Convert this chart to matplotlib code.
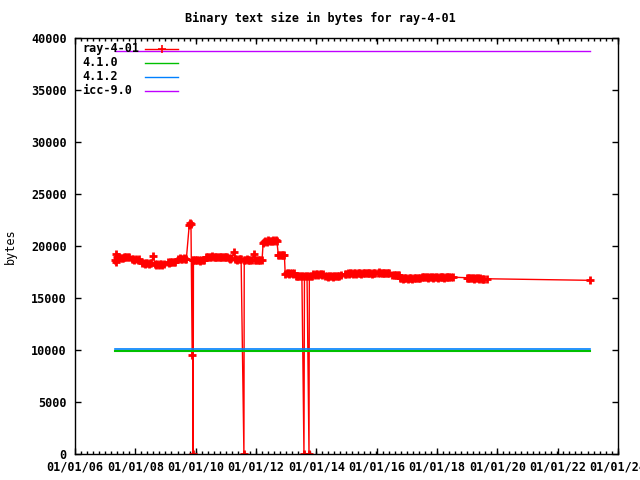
import numpy as np
import pandas as pd
import matplotlib
matplotlib.use("Agg")
import matplotlib.pyplot as plt
import matplotlib.dates as mdates
from matplotlib.ticker import AutoMinorLocator, MultipleLocator

# ray-4-01 build sizes
ray_dates = [
    '2007-05-01', '2007-05-08', '2007-05-15', '2007-05-25', '2007-06-05', '2007-06-20',
    '2007-07-05', '2007-07-20', '2007-08-01', '2007-08-15',
    '2007-08-30', '2007-09-15', '2007-10-01', '2007-10-15',
    '2007-11-20', '2007-12-05', '2007-12-20', '2008-01-10', '2008-02-01', '2008-02-20',
    '2008-03-25', '2008-04-10', '2008-04-25', '2008-05-10', '2008-05-25', '2008-06-10',
    '2008-06-25', '2008-07-10', '2008-08-05',
    '2008-08-25', '2008-09-10', '2008-09-25', '2008-10-10', '2008-10-25', '2008-11-10',
    '2008-11-25', '2008-12-10',
    '2009-01-25', '2009-02-10', '2009-02-25', '2009-03-10', '2009-03-25', '2009-04-10',
    '2009-04-25',
    '2009-06-01', '2009-06-20', '2009-07-10', '2009-07-25', '2009-08-10', '2009-08-25',
    '2009-09-10',
    '2009-10-15', '2009-10-25', '2009-11-05', '2009-11-20', '2009-11-28', '2009-12-01',
    '2009-12-05',
    '2009-12-20', '2010-01-05', '2010-01-20', '2010-02-05', '2010-02-20', '2010-03-10',
    '2010-03-25', '2010-04-10',
    '2010-05-05', '2010-05-20', '2010-06-05', '2010-06-20', '2010-07-05', '2010-07-20',
    '2010-08-05', '2010-08-20', '2010-09-05', '2010-09-20', '2010-10-05', '2010-10-20',
    '2010-11-05', '2010-11-20', '2010-12-05', '2010-12-20', '2011-01-05', '2011-01-20',
    '2011-02-05',
    '2011-02-20', '2011-03-10', '2011-04-08', '2011-04-20', '2011-05-05', '2011-05-20',
    '2011-06-05', '2011-06-20', '2011-07-05', '2011-08-08',
    '2011-08-12', '2011-08-25', '2011-09-10', '2011-09-25', '2011-10-10', '2011-10-25',
    '2011-11-10', '2011-12-05', '2011-12-20', '2012-01-05', '2012-01-20', '2012-02-05',
    '2012-02-20', '2012-03-15',
    '2012-03-28', '2012-04-10', '2012-04-25', '2012-05-10', '2012-05-25', '2012-06-10',
    '2012-06-25', '2012-07-10', '2012-07-25', '2012-08-10', '2012-08-25', '2012-09-10',
    '2012-09-28', '2012-10-10', '2012-10-25', '2012-11-10', '2012-11-25', '2012-12-10',
    '2012-12-20', '2013-01-05', '2013-01-20', '2013-02-05', '2013-02-20', '2013-03-10',
    '2013-03-25', '2013-04-10',
    '2013-04-25', '2013-05-10', '2013-05-25', '2013-06-10', '2013-06-25', '2013-07-10',
    '2013-08-04', '2013-08-10', '2013-08-25', '2013-09-10', '2013-10-04', '2013-10-08',
    '2013-10-25', '2013-11-10',
    '2013-11-25', '2013-12-10', '2013-12-25', '2014-01-10', '2014-01-25', '2014-02-10',
    '2014-02-25', '2014-03-10', '2014-03-25',
    '2014-04-20', '2014-05-05', '2014-05-20', '2014-06-05', '2014-06-20', '2014-07-05',
    '2014-07-20', '2014-08-05', '2014-08-20', '2014-09-05', '2014-09-20', '2014-10-05',
    '2014-10-25',
    '2014-12-15', '2015-01-01', '2015-01-15', '2015-02-01', '2015-02-15', '2015-03-01',
    '2015-03-15', '2015-04-01', '2015-04-15', '2015-05-01', '2015-05-15', '2015-06-01',
    '2015-06-15', '2015-07-01', '2015-07-15', '2015-08-01', '2015-08-15', '2015-09-01',
    '2015-09-15', '2015-10-01', '2015-10-15', '2015-11-01', '2015-11-15', '2015-12-01',
    '2015-12-15',
    '2016-01-15', '2016-02-01', '2016-02-15', '2016-03-01', '2016-03-15', '2016-04-01',
    '2016-04-15', '2016-05-01', '2016-05-15', '2016-06-01',
    '2016-07-10', '2016-07-25', '2016-08-10', '2016-08-25', '2016-09-10', '2016-09-25',
    '2016-10-10', '2016-10-25', '2016-11-10', '2016-11-25', '2016-12-10', '2016-12-25',
    '2017-01-10', '2017-01-25', '2017-02-10', '2017-02-25', '2017-03-10', '2017-03-25',
    '2017-04-10', '2017-04-25', '2017-05-10', '2017-05-25', '2017-06-10',
    '2017-07-01', '2017-07-15', '2017-08-01', '2017-08-15', '2017-09-01', '2017-09-15',
    '2017-10-01', '2017-10-15', '2017-11-01', '2017-11-15', '2017-12-01', '2017-12-15',
    '2018-01-01', '2018-01-15', '2018-02-01', '2018-02-15', '2018-03-01', '2018-03-15',
    '2018-04-01', '2018-04-15', '2018-05-01', '2018-05-15', '2018-06-01', '2018-06-15',
    '2018-07-10',
    '2018-12-28', '2019-01-10', '2019-01-25', '2019-02-10', '2019-02-25', '2019-03-10',
    '2019-03-25', '2019-04-10', '2019-04-25', '2019-05-10', '2019-05-25', '2019-06-10',
    '2019-06-25', '2019-07-10', '2019-07-25', '2019-08-28',
    '2023-01-25',
]
ray_bytes = [
    18700, 19200, 18500, 18900, 18800, 18900,
    18800, 18850, 18800, 18900,
    18950, 18950, 18950, 18900,
    18750, 18750, 18700, 18750, 18700, 18750,
    18350, 18350, 18300, 18350, 18350, 18300,
    18350, 18350, 19000,
    18250, 18200, 18250, 18200, 18250, 18250,
    18200, 18250,
    18450, 18400, 18450, 18500, 18450, 18450,
    18450,
    18750, 18800, 18750, 18750, 18800, 18750,
    18750,
    22000, 22200, 22100, 9500, 18700, 0,
    18650,
    18650, 18700, 18650, 18650, 18600, 18650,
    18650, 18700,
    18950, 18950, 18900, 18950, 18950, 19000,
    18950, 18950, 18900, 18950, 18950, 18950,
    18950, 18900, 18950, 18950, 18950, 18900,
    18800,
    18750, 18800, 19400, 18750, 18750, 18700,
    18750, 18750, 18750, 0,
    18700, 18700, 18750, 18700, 18700, 18650,
    18700, 19200, 18700, 18650, 18700, 18700,
    18700, 18700,
    20300, 20400, 20450, 20400, 20600, 20450,
    20500, 20450, 20600, 20500, 20550, 20500,
    19100, 19100, 19150, 19100, 19100, 19100,
    17300, 17400, 17400, 17350, 17400, 17400,
    17350, 17400,
    17100, 17100, 17150, 17100, 17100, 17100,
    0, 17100, 17100, 17100, 0, 17100,
    17100, 17150,
    17300, 17250, 17300, 17300, 17250, 17300,
    17300, 17250, 17300,
    17100, 17100, 17050, 17100, 17100, 17100,
    17050, 17100, 17100, 17150, 17100, 17100,
    17200,
    17300, 17350, 17400, 17350, 17400, 17400,
    17350, 17400, 17400, 17350, 17400, 17400,
    17400, 17350, 17400, 17400, 17400, 17450,
    17400, 17400, 17400, 17350, 17400, 17400,
    17400,
    17450, 17500, 17450, 17450, 17450, 17400,
    17450, 17450, 17400, 17450,
    17200, 17200, 17250, 17200, 17200, 17200,
    16900, 16900, 16850, 16900, 16900, 16900,
    16850, 16900, 16900, 16900, 16850, 16900,
    16900, 16900, 16900, 16900, 16900,
    17000, 17050, 17000, 17000, 17000, 16950,
    17000, 17000, 17000, 16950, 17000, 17000,
    17000, 16950, 17000, 17000, 17000, 17000,
    16950, 17000, 17000, 17000, 17000, 17000,
    17000,
    16950, 16900, 16950, 16900, 16900, 16900,
    16850, 16900, 16900, 16900, 16850, 16900,
    16850, 16850, 16850, 16850,
    16700,
]

# reference compilers: flat lines over the same period
ref_dates = ['2007-05-01', '2023-01-25']
gcc410_bytes = [9900, 9900]
gcc412_bytes = [10080, 10080]
icc90_bytes = [38750, 38750]

series_names = ['ray-4-01', '4.1.0', '4.1.2', 'icc-9.0']
series_colors = ['#ff0000', '#00c000', '#0080ff', '#c000ff']

plt.rcParams['font.family'] = 'DejaVu Sans Mono'
plt.rcParams['font.weight'] = 'bold'
plt.rcParams['font.size'] = 8.5

fig = plt.figure(figsize=(6.4, 4.8), dpi=100)
ax = fig.add_axes([75 / 640, 26 / 480, 543 / 640, 416 / 480])

x_ray = pd.to_datetime(ray_dates)
x_ref = pd.to_datetime(ref_dates)

ax.plot(x_ray, ray_bytes, color=series_colors[0], lw=1, marker='+', ms=6, mew=2, zorder=2)
ax.plot(x_ref, gcc412_bytes, color=series_colors[2], lw=1.2, zorder=3)
ax.plot(x_ref, gcc410_bytes, color=series_colors[1], lw=1.5, zorder=4)
ax.plot(x_ref, icc90_bytes, color=series_colors[3], lw=1, zorder=3)

ax.set_xlim(pd.Timestamp('2006-01-01'), pd.Timestamp('2024-01-01'))
ax.set_ylim(0, 40000)
ax.xaxis.set_major_locator(mdates.YearLocator(2))
ax.xaxis.set_major_formatter(mdates.DateFormatter('%m/%d/%y'))
ax.xaxis.set_minor_locator(AutoMinorLocator(10))
ax.yaxis.set_major_locator(MultipleLocator(5000))

ax.tick_params(which='both', direction='in', top=True, right=True, width=1)
ax.tick_params(which='major', length=4.5, pad=6)
ax.tick_params(which='minor', length=2.5)
ax.tick_params(axis='x', pad=5)
for s in ax.spines.values():
    s.set_linewidth(1)

ax.set_ylabel('bytes', labelpad=10)
fig.text(0.5, 0.962, 'Binary text size in bytes for ray-4-01', ha='center', va='center')

# gnuplot-style key: text left, sample line to the right
for i, (name, col) in enumerate(zip(series_names, series_colors)):
    y = 0.974 - i * 0.0335
    ax.text(0.013, y, name, transform=ax.transAxes, ha='left', va='center', zorder=5)
    ax.plot([0.129, 0.19], [y, y], color=col, lw=1, transform=ax.transAxes,
            clip_on=False, zorder=5)
    if i == 0:
        ax.plot([0.1595], [y], color=col, marker='+', ms=5.5, mew=1.2,
                transform=ax.transAxes, clip_on=False, zorder=5)

fig.savefig('out.png', dpi=100)
